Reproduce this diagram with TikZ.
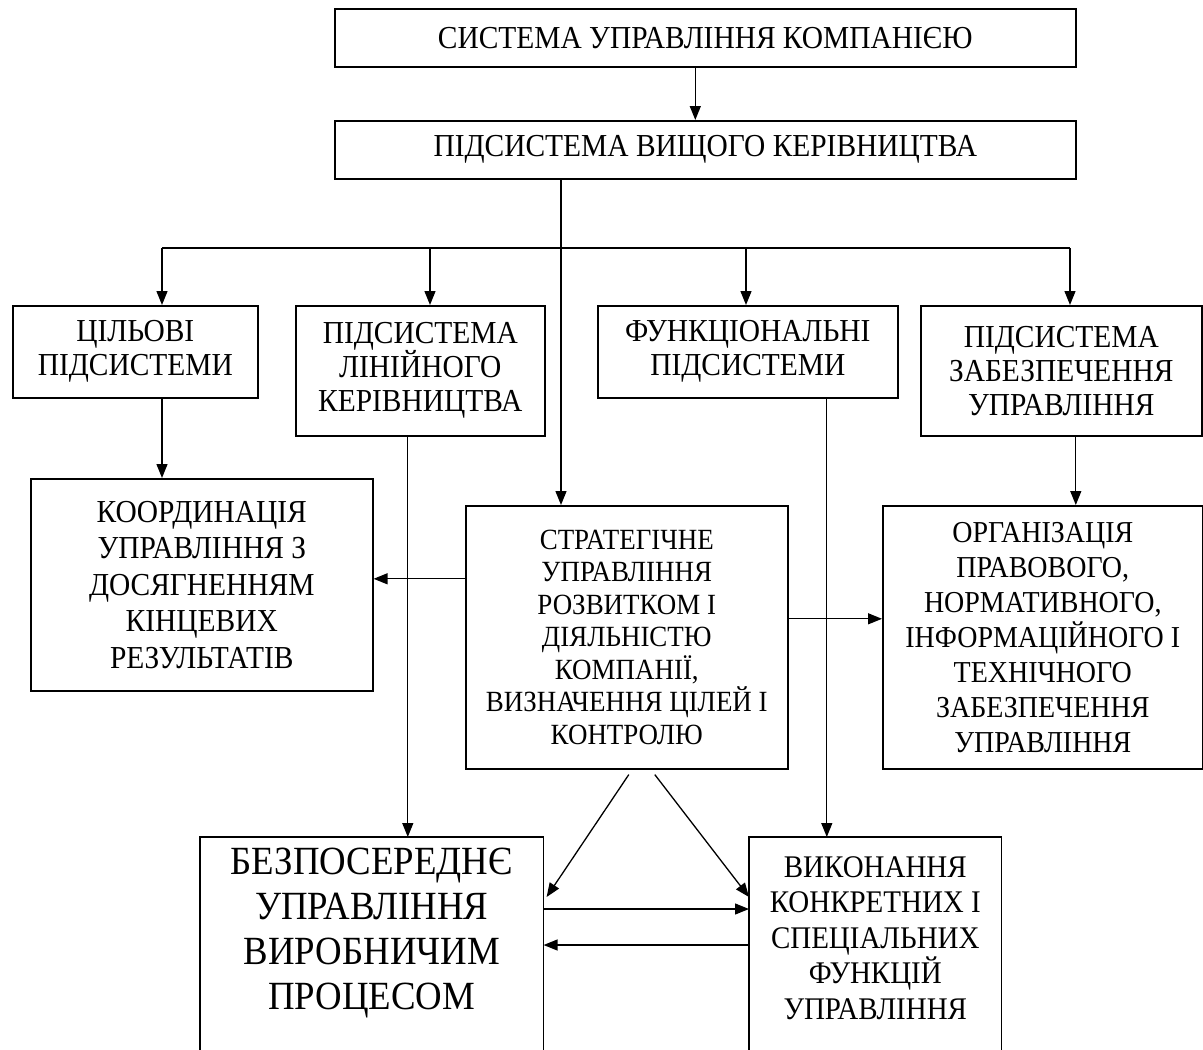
\documentclass[tikz,border=0pt]{standalone}
\usepackage{fontspec}
\setmainfont{Liberation Serif}[FakeStretch=0.92]
\usetikzlibrary{arrows.meta}
\tikzset{
  blk/.style={draw, line width=1.6pt, rectangle, anchor=north west, align=center, inner sep=0pt,
    font=\fontsize{32}{34}\selectfont},
  arr/.style={-{Triangle[length=14pt,width=11pt]}, line width=1.3pt},
}
\begin{document}
\begin{tikzpicture}[x=1pt, y=-1pt]
        \useasboundingbox (0,0) rectangle (1203,1050);
        \node[blk, minimum width=741, minimum height=58] (sys) at (334,8) {СИСТЕМА УПРАВЛІННЯ КОМПАНІЄЮ};
        \node[blk, minimum width=741, minimum height=58] (vys) at (334,120) {ПІДСИСТЕМА ВИЩОГО КЕРІВНИЦТВА};
        \node[blk, minimum width=245, minimum height=92] (cil) at (12,305) {ЦІЛЬОВІ\\ПІДСИСТЕМИ};
        \node[blk, minimum width=249, minimum height=130] (lin) at (295,305) {ПІДСИСТЕМА\\ЛІНІЙНОГО\\КЕРІВНИЦТВА};
        \node[blk, minimum width=300, minimum height=92] (fun) at (597,305) {ФУНКЦІОНАЛЬНІ\\ПІДСИСТЕМИ};
        \node[blk, minimum width=281, minimum height=130] (zab) at (920,305) {ПІДСИСТЕМА\\ЗАБЕЗПЕЧЕННЯ\\УПРАВЛІННЯ};
        \node[blk, minimum width=342, minimum height=212, font=\fontsize{32}{36.5}\selectfont] (kor) at (30,478)
          {КООРДИНАЦІЯ\\УПРАВЛІННЯ З\\ДОСЯГНЕННЯМ\\КІНЦЕВИХ\\РЕЗУЛЬТАТІВ};
        \node[blk, minimum width=322, minimum height=263, font=\fontsize{29.3}{32.5}\selectfont] (str) at (465,505)
          {СТРАТЕГІЧНЕ\\УПРАВЛІННЯ\\РОЗВИТКОМ І\\ДІЯЛЬНІСТЮ\\КОМПАНІЇ,\\ВИЗНАЧЕННЯ ЦІЛЕЙ І\\КОНТРОЛЮ};
        \node[blk, minimum width=320, minimum height=263, font=\fontsize{30.4}{35}\selectfont] (org) at (882,505)
          {ОРГАНІЗАЦІЯ\\ПРАВОВОГО,\\НОРМАТИВНОГО,\\ІНФОРМАЦІЙНОГО І\\ТЕХНІЧНОГО\\ЗАБЕЗПЕЧЕННЯ\\УПРАВЛІННЯ};
        \node[blk, draw=none, minimum width=342, minimum height=190, font=\fontsize{40}{45}\selectfont] (bez) at (200,837)
          {БЕЗПОСЕРЕДНЄ\\УПРАВЛІННЯ\\ВИРОБНИЧИМ\\ПРОЦЕСОМ};
        \node[blk, draw=none, minimum width=251, minimum height=200, font=\fontsize{31.5}{35.5}\selectfont] (vyk) at (749,837)
          {ВИКОНАННЯ\\КОНКРЕТНИХ І\\СПЕЦІАЛЬНИХ\\ФУНКЦІЙ\\УПРАВЛІННЯ};
        \coordinate (low) at (0,1060);
        \draw[line width=1.6pt] (bez.north west |- low) -- (bez.north west) -- (bez.north east) -- (bez.north east |- low);
        \draw[line width=1.6pt] (vyk.north west |- low) -- (vyk.north west) -- (vyk.north east) -- (vyk.north east |- low);
        % top part
        \draw[arr] ([xshift=-10pt]sys.south) -- ([xshift=-10pt]vys.north);
        \draw[arr] ([xshift=96pt]str.north west |- vys.south) -- ([xshift=96pt]str.north west);
        \coordinate (b1) at (162,248);
        \coordinate (b2) at (430,248);
        \coordinate (b3) at (746,248);
        \coordinate (b4) at (1070,248);
        \draw[line width=1.8pt] (b1) -- (b4);
        \draw[arr] (b1) -- (b1 |- cil.north);
        \draw[arr] (b2) -- (b2 |- lin.north);
        \draw[arr] (b3) -- (b3 |- fun.north);
        \draw[arr] (b4) -- (b4 |- zab.north);
        % middle part
        \draw[arr] (b1 |- cil.south) -- (b1 |- kor.north);
        \draw[arr] ([xshift=14.5pt]zab.south) -- ([xshift=14.5pt]zab.south |- org.north);
        \draw[arr] ([yshift=58.5pt]str.west) -- ([yshift=58.5pt]str.west -| kor.east);
        \draw[arr] ([yshift=18.5pt]str.east) -- ([yshift=18.5pt]str.east -| org.west);
        \draw[arr] ([xshift=-12.5pt]lin.south) -- ([xshift=-12.5pt]lin.south |- bez.north);
        \draw[arr] ([xshift=79pt]fun.south) -- ([xshift=79pt]fun.south |- vyk.north);
        % bottom part
        \draw[arr] ([xshift=2pt,yshift=-5pt]str.south) -- ([xshift=3pt,yshift=-60pt]bez.north east);
        \draw[arr] ([xshift=28pt,yshift=-5pt]str.south) -- ([yshift=-60pt]vyk.north west);
        \draw[arr] ([yshift=-72pt]bez.north east) -- ([yshift=-72pt]vyk.north west);
        \draw[arr] ([yshift=-108pt]vyk.north west) -- ([yshift=-108pt]bez.north east);
      \end{tikzpicture}
\end{document}
